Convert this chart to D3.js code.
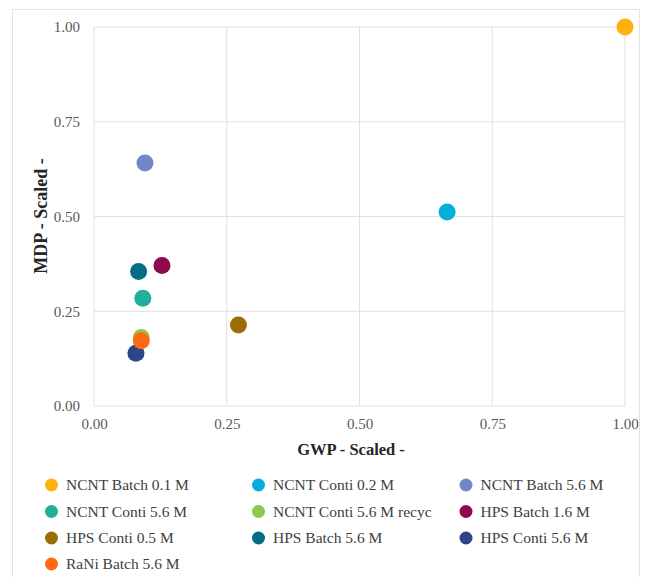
<!DOCTYPE html>
<html><head><meta charset="utf-8">
<script src="https://cdn.jsdelivr.net/npm/d3@7"></script>
<style>body{margin:0;background:#fff;} svg{display:block;}</style>
</head><body>
<svg id="chart" width="646" height="577"></svg>
<script>
const seriesNames = ["NCNT Batch 0.1 M","NCNT Conti 0.2 M","NCNT Batch 5.6 M","NCNT Conti 5.6 M","NCNT Conti 5.6 M recyc","HPS Batch 1.6 M","HPS Conti 0.5 M","HPS Batch 5.6 M","HPS Conti 5.6 M","RaNi Batch 5.6 M"];
const gwpValues = [1.0, 0.665, 0.096, 0.092, 0.089, 0.128, 0.272, 0.084, 0.079, 0.089];
const mdpValues = [1.0, 0.512, 0.641, 0.284, 0.181, 0.371, 0.214, 0.355, 0.139, 0.172];
const seriesColors = ["#FFB20F","#05AEDD","#7088C8","#1FAF9C","#8CC84B","#8E0A4F","#9B6D04","#056C86","#2C458A","#FF6A10"];
const tickValues = [0, 0.25, 0.5, 0.75, 1.0];
const xTitle = "GWP - Scaled -";
const yTitle = "MDP - Scaled -";

const svg = d3.select("#chart");
const font = "Liberation Serif";
svg.append("rect").attr("x",12.5).attr("y",9.5).attr("width",627).attr("height",580)
  .attr("fill","#fff").attr("stroke","#e3e3e3");

const x = d3.scaleLinear().domain([0,1]).range([94,625]);
const y = d3.scaleLinear().domain([0,1]).range([406,27]);

svg.append("g").selectAll("line").data(tickValues).join("line")
  .attr("x1",d=>x(d)).attr("x2",d=>x(d)).attr("y1",y(0)).attr("y2",y(1))
  .attr("stroke","#e0e0e0").attr("stroke-width",1);
svg.append("g").selectAll("line").data(tickValues).join("line")
  .attr("x1",x(0)).attr("x2",x(1)).attr("y1",d=>y(d)).attr("y2",d=>y(d))
  .attr("stroke","#e0e0e0").attr("stroke-width",1);

const xAxis = svg.append("g").attr("transform",`translate(0,${y(0)})`)
  .call(d3.axisBottom(x).tickValues(tickValues).tickFormat(d3.format(".2f")).tickSize(0).tickPadding(12));
const yAxis = svg.append("g").attr("transform",`translate(${x(0)},0)`)
  .call(d3.axisLeft(y).tickValues(tickValues).tickFormat(d3.format(".2f")).tickSize(0).tickPadding(14));
[xAxis,yAxis].forEach(a=>{
  a.select(".domain").remove();
  a.selectAll("text").style("font-family",font).style("font-size","15px").attr("fill","#595959");
});

svg.append("text").attr("x",351).attr("y",455).attr("text-anchor","middle")
  .style("font-family",font).style("font-size","16.5px").style("font-weight","bold").attr("fill","#262626").text(xTitle);
svg.append("text").attr("transform",`translate(47,216) rotate(-90)`).attr("text-anchor","middle")
  .style("font-family",font).style("font-size","18px").style("font-weight","bold").attr("fill","#262626").text(yTitle);

svg.append("g").selectAll("circle").data(seriesNames).join("circle")
  .attr("cx",(d,i)=>x(gwpValues[i])).attr("cy",(d,i)=>y(mdpValues[i]))
  .attr("r",8.5).attr("fill",(d,i)=>seriesColors[i]);

const colX = [51.5, 258.5, 466];
const rowY = [485, 511.5, 538, 564];
const lg = svg.append("g").selectAll("g").data(seriesNames).join("g")
  .attr("transform",(d,i)=>`translate(${colX[i%3]},${rowY[Math.floor(i/3)]})`);
lg.append("circle").attr("r",6.5).attr("fill",(d,i)=>seriesColors[i]);
lg.append("text").attr("x",14.5).attr("dy","0.35em").style("font-family",font).style("font-size","15.5px")
  .attr("fill","#404040").text(d=>d);
</script>
</body></html>
